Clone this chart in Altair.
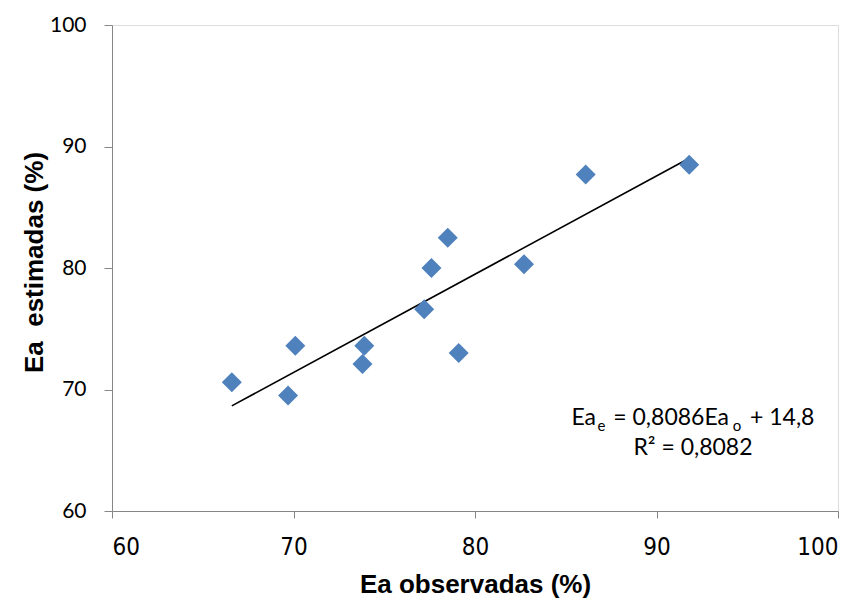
import altair as alt
import pandas as pd

# Observed vs estimated Ea (%)
ea_obs = [66.6, 69.7, 70.1, 73.8, 73.9, 77.2, 77.6, 78.5, 79.1, 82.7, 86.1, 91.8]
ea_est = [70.6, 69.5, 73.6, 72.1, 73.6, 76.6, 80.0, 82.5, 73.0, 80.3, 87.7, 88.5]

slope = 0.8086
intercept = 14.8

x_ticks = [60, 70, 80, 90, 100]
y_ticks = [60, 70, 80, 90, 100]

pts = pd.DataFrame({"obs": ea_obs, "est": ea_est})
xmin, xmax = min(ea_obs), max(ea_obs)
trend = pd.DataFrame({"obs": [xmin, xmax],
                      "est": [slope * xmin + intercept, slope * xmax + intercept]})

W, H = 726, 486
axis_color = "#868686"
label_font = "Lato"

xscale = alt.Scale(domain=[60, 100], nice=False, zero=False)
yscale = alt.Scale(domain=[60, 100], nice=False, zero=False)

xaxis = alt.Axis(values=x_ticks, title="Ea observadas (%)", grid=False,
                 domainColor=axis_color, tickColor=axis_color, tickSize=7,
                 labelFont="'Liberation Sans Narrow', 'DejaVu Sans Condensed', Lato",
                 labelFontSize=24, labelColor="black",
                 labelPadding=17, titleFont="Liberation Sans", titleFontSize=26,
                 titleFontWeight="bold", titleColor="black", titleX=363, titleY=81,
                 titleBaseline="alphabetic", titleAlign="center")
yaxis = alt.Axis(values=y_ticks, title="Ea\u00a0\u00a0estimadas (%)", grid=False,
                 domainColor=axis_color, tickColor=axis_color, tickSize=8,
                 labelFont=label_font, labelFontSize=21, labelColor="black",
                 labelPadding=18, titleFont="Liberation Sans", titleFontSize=26,
                 titleFontWeight="bold", titleColor="black", titleX=-70, titleY=237,
                 titleBaseline="alphabetic", titleAlign="center", titleAngle=-90)

points = alt.Chart(pts).mark_point(shape="diamond", filled=True, size=400,
                                   color="#4F81BD", opacity=1).encode(
    x=alt.X("obs:Q", scale=xscale, axis=xaxis),
    y=alt.Y("est:Q", scale=yscale, axis=yaxis),
)

line = alt.Chart(trend).mark_line(color="black", strokeWidth=1.6).encode(
    x=alt.X("obs:Q", scale=xscale),
    y=alt.Y("est:Q", scale=yscale),
)

# annotation pieces (data coordinates)
ann = pd.DataFrame({
    "obs": [86.667, 86.75, 93.994, 94.2, 95.15, 92.01],
    "est": [67.08, 66.58, 67.08, 66.58, 67.08, 64.61],
    "txt": ["Ea", "e", "= 0,8086Ea", "o", "+ 14,8", "R² = 0,8082"],
    "size": [23, 15, 23, 15, 23, 23],
    "align": ["right", "left", "right", "left", "left", "center"],
})

texts = []
for i, r in ann.iterrows():
    texts.append(
        alt.Chart(pd.DataFrame([r])).mark_text(
            font=label_font, fontSize=int(r["size"]), align=r["align"],
            baseline="alphabetic", color="black").encode(
            x=alt.X("obs:Q", scale=xscale),
            y=alt.Y("est:Q", scale=yscale),
            text="txt:N",
        )
    )

chart = alt.layer(line, points, *texts).properties(
    width=W, height=H,
    autosize=alt.AutoSizeParams(type="none"),
    padding={"left": 104, "top": 17, "right": 18, "bottom": 88},
).configure_view(stroke=None).configure(background="white")

chart.save("out.html", embed_options={"renderer": "svg", "actions": False})
